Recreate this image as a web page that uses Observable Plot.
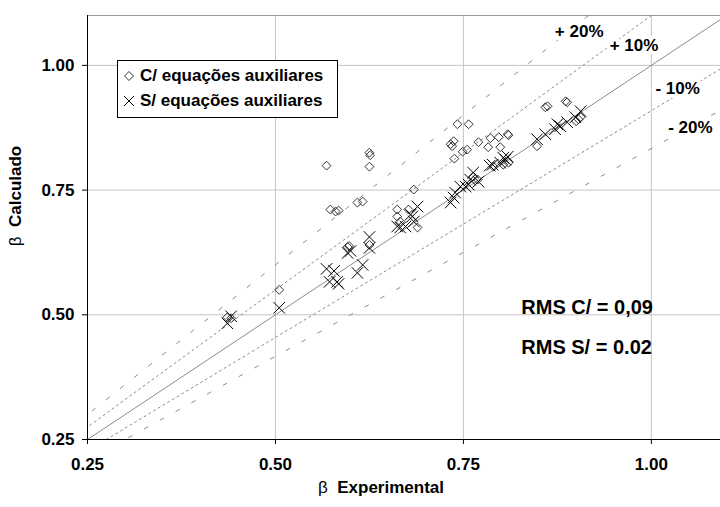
<!DOCTYPE html>
<html><head><meta charset="utf-8">
<script src="https://cdn.jsdelivr.net/npm/d3@7"></script>
<script src="https://cdn.jsdelivr.net/npm/@observablehq/plot@0.6"></script>
<style>
body{margin:0;background:#fff;}
#wrap{position:relative;width:720px;height:507px;font-family:"Liberation Sans",Arial,sans-serif;overflow:hidden;}
#legend{position:absolute;left:117px;top:60px;width:219px;height:56px;border:1px solid #000;background:#fff;font-weight:bold;font-size:17px;}
#legend .row{position:absolute;left:4px;display:flex;align-items:center;white-space:nowrap;}
#legend svg{margin-right:4px;}
.xt{position:absolute;left:318px;top:478px;font-size:17px;white-space:nowrap;}
.yt{position:absolute;left:16px;top:196px;font-size:17px;white-space:nowrap;transform:translate(-50%,-50%) rotate(-90deg);}
.b{font-weight:bold;}
</style></head><body><div id="wrap"></div>
<script>
// C/ equações auxiliares (diamonds)
const comExp  = [0.436,0.441,0.505,0.568,0.573,0.580,0.584,0.609,0.616,0.596,0.598,0.625,0.626,0.625,0.625,0.662,0.662,0.677,0.666,0.689,0.684,0.742,0.757,0.733,0.737,0.735,0.749,0.755,0.738,0.770,0.786,0.797,0.809,0.810,0.783,0.799,0.859,0.862,0.886,0.888,0.848,0.903,0.906,0.900,0.790,0.803,0.810,0.763,0.769];
const comCalc = [0.495,0.493,0.550,0.799,0.711,0.707,0.709,0.725,0.727,0.636,0.638,0.825,0.820,0.797,0.640,0.711,0.697,0.711,0.687,0.675,0.751,0.882,0.882,0.842,0.848,0.838,0.827,0.831,0.813,0.846,0.854,0.856,0.862,0.860,0.836,0.836,0.916,0.918,0.928,0.926,0.838,0.892,0.896,0.888,0.797,0.801,0.805,0.777,0.771];
// S/ equações auxiliares (crosses)
const semExp  = [0.436,0.441,0.505,0.568,0.578,0.572,0.584,0.582,0.609,0.616,0.596,0.600,0.625,0.625,0.662,0.666,0.673,0.682,0.689,0.684,0.680,0.733,0.737,0.739,0.746,0.753,0.757,0.759,0.763,0.770,0.789,0.799,0.806,0.809,0.803,0.848,0.859,0.872,0.879,0.888,0.899,0.906,0.785,0.875];
const semCalc = [0.483,0.497,0.514,0.592,0.588,0.566,0.562,0.566,0.584,0.600,0.624,0.628,0.656,0.634,0.677,0.675,0.677,0.697,0.717,0.687,0.701,0.725,0.735,0.745,0.757,0.757,0.761,0.771,0.785,0.767,0.801,0.805,0.811,0.817,0.815,0.852,0.862,0.872,0.878,0.886,0.896,0.908,0.799,0.882];

const tickValues = [0.25, 0.50, 0.75, 1.00];
const bandFactors = [1.2, 1.1, 1, 1/1.1, 1/1.2];
const bandNames = ["+ 20%", "+ 10%", "", "- 10%", "- 20%"];
const bandLabelX = [0.904, 0.977, null, 1.035, 1.052];
const bandLabelY = [1.067, 1.039, null, 0.954, 0.876];
const rmsText = ["RMS C/ = 0,09", "RMS S/ = 0.02"];
const rmsX = [0.827, 0.827];
const rmsY = [0.514, 0.435];

const xDomain = [0.25, 1.092];
const yDomain = [0.25, 1.1];

const com = comExp.map((x, i) => ({x, y: comCalc[i]}));
const sem = semExp.map((x, i) => ({x, y: semCalc[i]}));
const bandLines = bandFactors.map((k, i) => ({k, i, pts: [{x: 0.2, y: 0.2 * k}, {x: 1.2, y: 1.2 * k}]}));
const linePts = (sel) => bandLines.filter(sel).flatMap(b => b.pts.map(p => ({...p, k: b.k})));
const bandLabels = bandNames.map((t, i) => ({t, x: bandLabelX[i], y: bandLabelY[i]})).filter(d => d.t);
const rms = rmsText.map((t, i) => ({t, x: rmsX[i], y: rmsY[i]}));

const plot = Plot.plot({
  width: 720, height: 507,
  marginLeft: 87, marginRight: 0, marginTop: 15, marginBottom: 68,
  x: {domain: xDomain},
  y: {domain: yDomain},
  style: {fontFamily: "Liberation Sans, Arial, sans-serif", fontSize: "17px", fontWeight: "bold", background: "white", color: "black"},
  marks: [
    Plot.gridX(tickValues.slice(1), {stroke: "#c4c4c4", strokeOpacity: 1}),
    Plot.gridY(tickValues.slice(1), {stroke: "#c4c4c4", strokeOpacity: 1}),
    Plot.ruleY([yDomain[1]], {stroke: "#9a9a9a"}),
    Plot.line(linePts(b => b.k === 1), {x: "x", y: "y", z: "k", stroke: "#8c8c8c", strokeWidth: 1, clip: true}),
    Plot.line(linePts(b => b.i === 1 || b.i === 3), {x: "x", y: "y", z: "k", stroke: "#8c8c8c", strokeWidth: 1, strokeDasharray: "2,3.5", clip: true}),
    Plot.line(linePts(b => b.i === 0 || b.i === 4), {x: "x", y: "y", z: "k", stroke: "#8c8c8c", strokeWidth: 1, strokeDasharray: "4,14", clip: true}),
    Plot.dot(com, {x: "x", y: "y", symbol: "diamond2", r: 4, stroke: "#333", strokeWidth: 1, fill: "none"}),
    Plot.dot(sem, {x: "x", y: "y", symbol: "times", r: 5.3, stroke: "#000", strokeWidth: 1}),
    Plot.text(bandLabels, {x: "x", y: "y", text: "t", fontSize: 17, fontWeight: "bold", fill: "black", stroke: "white", strokeWidth: 8}),
    Plot.text(rms, {x: "x", y: "y", text: "t", textAnchor: "start", fontSize: 20, fontWeight: "bold", fill: "black"}),
    Plot.ruleX([xDomain[0]], {stroke: "black"}),
    Plot.ruleY([yDomain[0]], {stroke: "black"}),
    Plot.axisX(tickValues, {tickFormat: d3.format(".2f"), tickSize: 5, tickPadding: 13, label: null, fontSize: 17, fontWeight: "bold"}),
    Plot.axisY(tickValues, {tickFormat: d3.format(".2f"), tickSize: 5, tickPadding: 8, label: null, fontSize: 17, fontWeight: "bold"})
  ]
});
const wrap = document.getElementById("wrap");
wrap.appendChild(plot);

const legend = document.createElement("div");
legend.id = "legend";
legend.innerHTML = `
<div class="row" style="top:5px"><svg width="14" height="14" viewBox="-7 -7 14 14"><path d="M0,-4.5L4.5,0L0,4.5L-4.5,0Z" fill="none" stroke="#333"/></svg><span>C/ equações auxiliares</span></div>
<div class="row" style="top:30px"><svg width="14" height="14" viewBox="-7 -7 14 14"><path d="M-5,-5L5,5M-5,5L5,-5" stroke="#000"/></svg><span>S/ equações auxiliares</span></div>`;
wrap.appendChild(legend);

const xt = document.createElement("div");
xt.className = "xt";
xt.innerHTML = `β&nbsp; <span class="b">Experimental</span>`;
wrap.appendChild(xt);
const yt = document.createElement("div");
yt.className = "yt";
yt.innerHTML = `β&nbsp; <span class="b">Calculado</span>`;
wrap.appendChild(yt);
</script>
</body></html>
